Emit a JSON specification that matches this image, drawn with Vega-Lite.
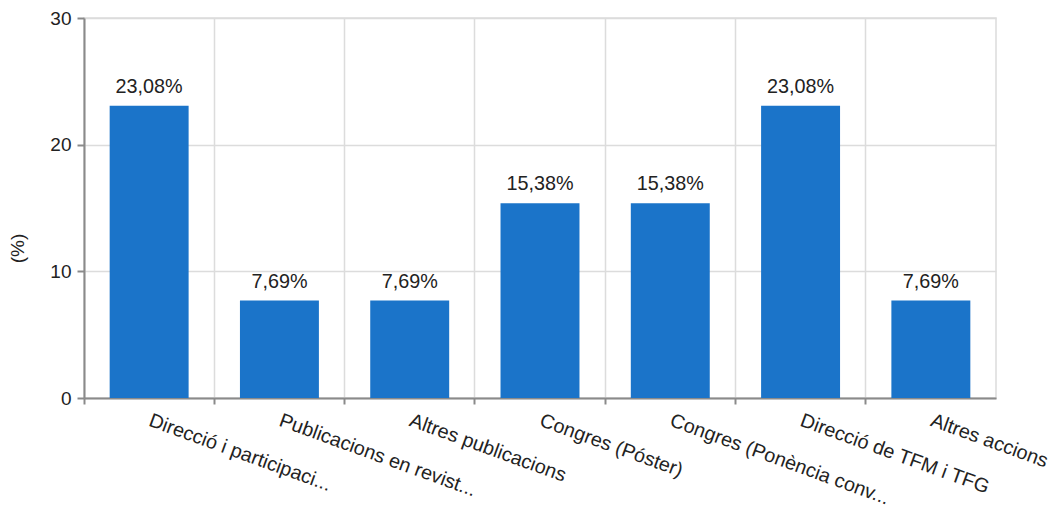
{
  "$schema": "https://vega.github.io/schema/vega-lite/v6.json",
  "width": 912,
  "height": 380,
  "autosize": "none",
  "padding": {"left": 84, "top": 18, "right": 59, "bottom": 107},
  "background": "white",
  "config": {
    "font": "Liberation Sans",
    "view": {"stroke": "#dcdcdc", "strokeWidth": 1.5}
  },
  "data": {
    "values": [
      {"cat": "Direcció i participaci...", "value": 23.08, "label": "23,08%"},
      {"cat": "Publicacions en revist...", "value": 7.69, "label": "7,69%"},
      {"cat": "Altres publicacions", "value": 7.69, "label": "7,69%"},
      {"cat": "Congres (Póster)", "value": 15.38, "label": "15,38%"},
      {"cat": "Congres (Ponència conv...", "value": 15.38, "label": "15,38%"},
      {"cat": "Direcció de TFM i TFG", "value": 23.08, "label": "23,08%"},
      {"cat": "Altres accions", "value": 7.69, "label": "7,69%"}
    ]
  },
  "encoding": {
    "x": {
      "field": "cat",
      "type": "nominal",
      "sort": null,
      "scale": {"paddingInner": 0, "paddingOuter": 0},
      "axis": {
        "title": null,
        "bandPosition": 0,
        "grid": true,
        "gridColor": "#dcdcdc",
        "gridWidth": 1.5,
        "domainColor": "#8a8a8a",
        "domainWidth": 2,
        "tickColor": "#8a8a8a",
        "tickWidth": 2,
        "tickSize": 6,
        "labelAngle": 20,
        "labelAlign": "left",
        "labelBaseline": "top",
        "labelPadding": 6,
        "labelOffset": 4,
        "labelFontSize": 19.8,
        "labelColor": "#222222",
        "labelLimit": 400,
        "labelOverlap": false
      }
    },
    "y": {
      "field": "value",
      "type": "quantitative",
      "scale": {"domain": [0, 30]},
      "axis": {
        "title": "(%)",
        "values": [0, 10, 20, 30],
        "grid": true,
        "gridColor": "#dcdcdc",
        "gridWidth": 1.5,
        "domainColor": "#8a8a8a",
        "domainWidth": 2,
        "tickColor": "#8a8a8a",
        "tickWidth": 2,
        "tickSize": 7,
        "labelPadding": 6,
        "labelFontSize": 19,
        "labelColor": "#222222",
        "titleFontSize": 19,
        "titleFontWeight": "normal",
        "titleColor": "#222222",
        "titleX": -57,
        "titleY": 230
      }
    }
  },
  "layer": [
    {
      "mark": {"type": "bar", "color": "#1b74c9", "width": {"band": 0.606}}
    },
    {
      "mark": {"type": "text", "baseline": "bottom", "dy": -9, "fontSize": 19.8, "color": "#222222"},
      "encoding": {"text": {"field": "label"}}
    }
  ]
}
